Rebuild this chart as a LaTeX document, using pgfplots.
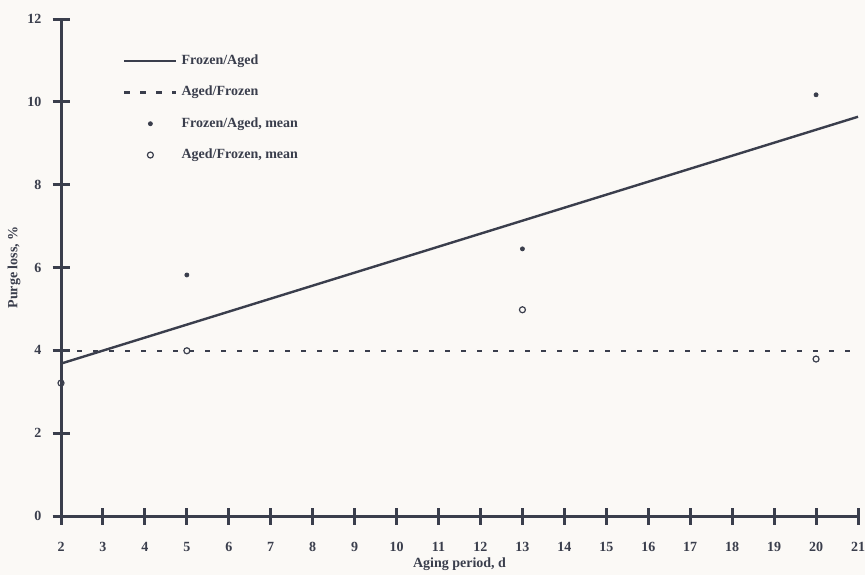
\documentclass[border=0pt]{standalone}
\usepackage{pgfplots}
\pgfplotsset{compat=1.18}
\usepackage{fontspec}
\setmainfont{Liberation Serif}
\usetikzlibrary{calc,backgrounds}
\definecolor{ink}{RGB}{58,62,76}
\definecolor{paper}{RGB}{251,249,246}
\pgfplotsset{
  lineleg/.style={legend image code/.code={\draw[##1] (0pt,0pt) -- (26pt,0pt);}},
  markleg/.style={legend image code/.code={\draw[mark repeat=1,mark phase=1,##1] plot coordinates {(13pt,0pt)};}},
}
\begin{document}
\begin{tikzpicture}
\begin{axis}[
  name=ax,
  scale only axis,
  width=398.5pt, height=248.5pt,
  xmin=2, xmax=21, ymin=0, ymax=12,
  axis lines=left,
  axis line style={-, line width=1.5pt, ink},
  xtick={2,3,...,21},
  ytick={0,2,...,12},
  major tick length=8.5pt,
  tick align=center,
  tick style={line width=1.5pt, ink},
  /pgf/number format/assume math mode=true,
  tick label style={font=\fontsize{7}{8}\selectfont\bfseries, text=ink},
  xticklabel style={anchor=center, yshift=-11pt},
  yticklabel style={anchor=east, xshift=-2pt},
  xlabel={Aging period, d},
  ylabel={Purge loss, \%},
  label style={font=\fontsize{7}{8}\selectfont\bfseries, text=ink},
  x label style={at={(axis description cs:0.5,0)}, anchor=center, yshift=-24pt},
  y label style={at={([xshift=-23.5pt]axis description cs:0,0.5)}, anchor=center},
  clip=false,
  legend cell align=left,
  legend style={draw=none, fill=none, at={(0.07,0.945)}, anchor=north west,
    font=\fontsize{7}{8}\selectfont\bfseries, text=ink, row sep=5.3pt,
    nodes={inner sep=2pt}},
]
\addplot[ink, line width=1.2pt, lineleg]
  coordinates {(2,3.68) (21,9.64)};
\addlegendentry{Frozen/Aged}
\addplot[ink, line width=1.2pt, dash pattern=on 2.6pt off 5.4pt, lineleg]
  coordinates {(2,3.98) (21,3.98)};
\addlegendentry{Aged/Frozen}
\addplot[only marks, mark=*, mark size=1pt, ink, markleg]
  coordinates {(5,5.82) (13,6.45) (20,10.17)};
\addlegendentry{Frozen/Aged, mean}
\addplot[only marks, mark=o, mark size=1.5pt, ink, mark options={line width=0.6pt, fill=paper}, markleg]
  coordinates {(2,3.21) (5,3.99) (13,4.98) (20,3.79)};
\addlegendentry{Aged/Frozen, mean}
\end{axis}
\pgfresetboundingbox
\path ($(ax.south west)+(-30.5pt,-29.5pt)$) rectangle ($(ax.north east)+(3.5pt,9.5pt)$);
\begin{scope}[on background layer]
\fill[paper] ($(ax.south west)+(-30.5pt,-29.5pt)$) rectangle ($(ax.north east)+(3.5pt,9.5pt)$);
\end{scope}
\end{tikzpicture}
\end{document}
